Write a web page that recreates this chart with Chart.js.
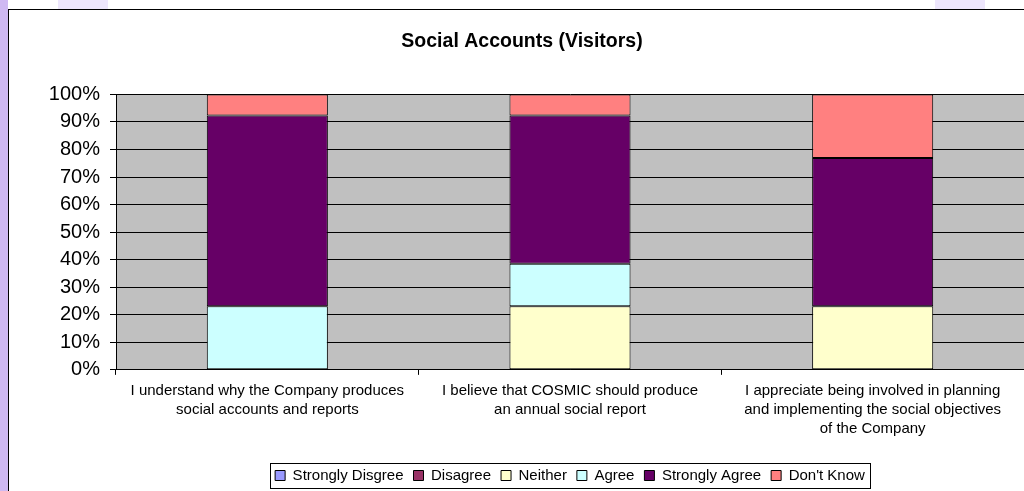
<!DOCTYPE html>
<html>
<head>
<meta charset="utf-8">
<script src="https://cdn.jsdelivr.net/npm/chart.js@4.4.0/dist/chart.umd.min.js"></script>
<style>
  html, body { margin: 0; padding: 0; background: #fff; overflow: hidden; width: 1024px; height: 491px; }
  #strip { position: absolute; left: 0; top: 0; width: 8px; height: 491px; background: #cfb9f2; }
  .haze { position: absolute; top: 0; height: 9px; background: #ede6fc; }
  #frame { position: absolute; left: 8px; top: 9px; width: 1040px; height: 500px;
           border-left: 1px solid #000; border-top: 1px solid #000; background: #fff; }
  #wrap { position: absolute; left: 0; top: 0; width: 1028px; height: 485px; }
</style>
</head>
<body>
<div id="strip"></div>
<div class="haze" style="left:58px;width:50px"></div>
<div class="haze" style="left:935px;width:50px"></div>
<div id="frame"><div id="wrap"><canvas id="chart"></canvas></div></div>
<script>
// === Dados do gráfico (percentual de respostas, n = 13) ===
const categories = [
  ['I understand why the Company produces', 'social accounts and reports'],
  ['I believe that COSMIC should produce', 'an annual social report'],
  ['I appreciate being involved in planning', 'and implementing the social objectives', 'of the Company']
];
const seriesNames = ['Strongly Disgree', 'Disagree', 'Neither', 'Agree', 'Strongly Agree', "Don't Know"];
const seriesColors = ['#9999FF', '#993366', '#FFFFCC', '#CCFFFF', '#660066', '#FF8080'];
const stronglyDisagree = [0, 0, 0];
const disagree = [0, 0, 0];
const neither = [0, 23.1, 23.1];
const agree = [23.1, 15.4, 0];
const stronglyAgree = [69.2, 53.8, 53.8];
const dontKnow = [7.7, 7.7, 23.1];
const yTicks = [0, 10, 20, 30, 40, 50, 60, 70, 80, 90, 100];

const seriesValues = [stronglyDisagree, disagree, neither, agree, stronglyAgree, dontKnow];

// === Fundo cinza da área do gráfico ===
const plotBackground = {
  id: 'plotBackground',
  beforeDraw(chart) {
    const { ctx, chartArea: a } = chart;
    ctx.save();
    ctx.fillStyle = '#C0C0C0';
    ctx.fillRect(a.left, a.top, a.right - a.left, a.bottom - a.top);
    ctx.restore();
  }
};

// === Borda em volta da legenda ===
const legendBorder = {
  id: 'legendBorder',
  afterDraw(chart) {
    const boxes = chart.legend.legendHitBoxes;
    if (!boxes || !boxes.length) return;
    const left = Math.min(...boxes.map(b => b.left)) - 5;
    const right = Math.max(...boxes.map(b => b.left + b.width)) + 5;
    const top = Math.min(...boxes.map(b => b.top)) - 5;
    const bottom = Math.max(...boxes.map(b => b.top + b.height)) + 5;
    const ctx = chart.ctx;
    ctx.save();
    ctx.strokeStyle = '#000';
    ctx.lineWidth = 1;
    ctx.strokeRect(Math.round(left) + 0.5, Math.round(top) + 0.5, Math.round(right - left), Math.round(bottom - top));
    ctx.restore();
  }
};

Chart.defaults.font.family = '"Liberation Sans", Arial, sans-serif';
Chart.defaults.color = '#000';

new Chart(document.getElementById('chart'), {
  type: 'bar',
  data: {
    labels: categories,
    datasets: seriesNames.map((name, i) => ({
      label: name,
      data: seriesValues[i],
      backgroundColor: seriesColors[i],
      borderColor: '#000',
      borderWidth: 1,
      borderSkipped: false,
      barPercentage: 0.4,
      categoryPercentage: 1
    }))
  },
  options: {
    responsive: true,
    maintainAspectRatio: false,
    animation: false,
    layout: { padding: { left: 11, right: 13, top: 10, bottom: 2 } },
    scales: {
      x: {
        stacked: true,
        grid: { offset: true, drawOnChartArea: false, color: '#000', tickLength: 5 },
        border: { color: '#000' },
        ticks: { maxRotation: 0, autoSkip: false, padding: 6, font: { size: 15, lineHeight: 1.27 } },
        afterFit: scale => { scale.height += 14; }
      },
      y: {
        stacked: true,
        min: 0,
        max: 100,
        afterBuildTicks: axis => { axis.ticks = yTicks.map(v => ({ value: v })); },
        afterFit: scale => { scale.width = 96; },
        grid: { color: '#000', tickLength: 6 },
        border: { color: '#000' },
        ticks: { padding: 10, font: { size: 20 }, callback: v => v + '%' }
      }
    },
    plugins: {
      title: {
        display: true,
        text: 'Social Accounts (Visitors)',
        font: { size: 19.5, weight: 'bold' },
        color: '#000',
        padding: { top: 10, bottom: 41 }
      },
      legend: {
        position: 'bottom',
        fullSize: false,
        labels: {
          boxWidth: 10,
          boxHeight: 10,
          padding: 10,
          font: { size: 15 },
          color: '#000'
        }
      },
      tooltip: { enabled: false }
    }
  },
  plugins: [plotBackground, legendBorder]
});
</script>
</body>
</html>
